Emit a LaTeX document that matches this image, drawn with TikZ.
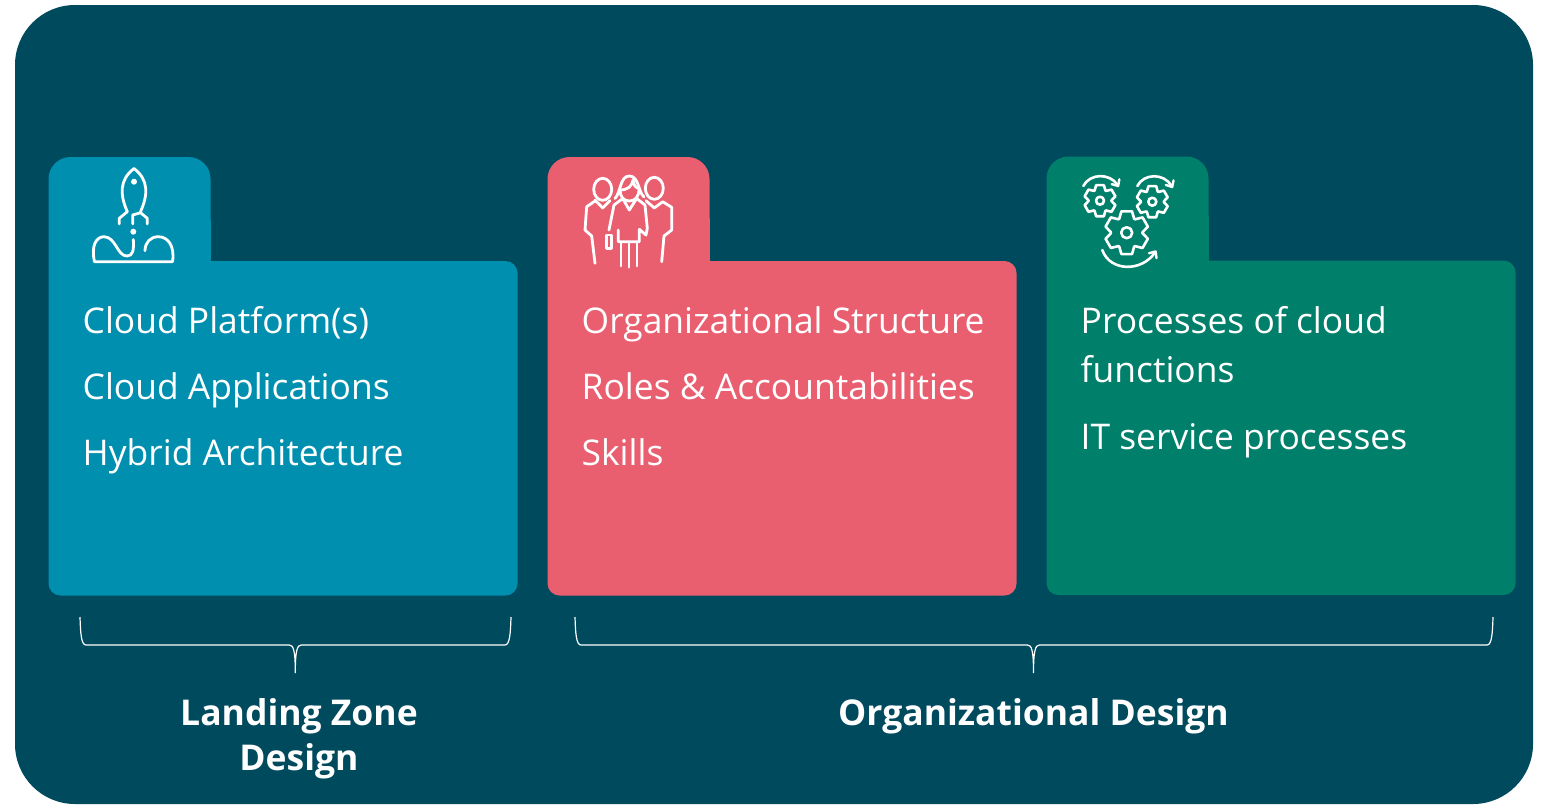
\documentclass[tikz,border=0pt]{standalone}
\usepackage{fontspec}
\setmainfont{Open Sans}
\usetikzlibrary{arrows.meta}
\definecolor{panel}{HTML}{004A5E}
\definecolor{cblue}{HTML}{008FAE}
\definecolor{cred}{HTML}{E95F70}
\definecolor{cgreen}{HTML}{007F6B}
\tikzset{
 txt/.style={anchor=base west,text=white,font=\fontsize{35.4}{49}\selectfont,inner sep=0pt,align=left},
 head/.style={anchor=base,text=white,font=\bfseries\fontsize{35.5}{45}\selectfont,inner sep=0pt,align=center},
 ic/.style={draw=white,line width=2.8pt,line cap=round,line join=round},
 icthin/.style={draw=white,line width=2.6pt,line cap=round,line join=round},
 brace/.style={draw=white,line width=1.2pt},
 turn/.style={icthin,-{Straight Barb[length=5pt,width=9pt,line width=2.4pt,round]}},
}
\newcommand{\folder}[4]{%
 \fill[#4] (#1,#2+22) arc[start angle=180,end angle=270,radius=22] -- (#1+140,#2) arc[start angle=270,end angle=360,radius=22] -- (#1+162.5,#2+104) -- (#3-12,#2+104) arc[start angle=270,end angle=360,radius=12] -- (#3,#2+426.5) arc[start angle=0,end angle=90,radius=12] -- (#1+12,#2+438.5) arc[start angle=90,end angle=180,radius=12] -- cycle;}
\newcommand{\gear}[4]{%
 \begin{scope}[shift={(#1,#2)}]
 \draw[icthin] (-104:#3) -- (-76:#3) -- (-62:#3*.72) -- (-58:#3*.72) -- (-44:#3) -- (-16:#3) -- (-2:#3*.72) -- (2:#3*.72) -- (16:#3) -- (44:#3) -- (58:#3*.72) -- (62:#3*.72) -- (76:#3) -- (104:#3) -- (118:#3*.72) -- (122:#3*.72) -- (136:#3) -- (164:#3) -- (178:#3*.72) -- (182:#3*.72) -- (196:#3) -- (224:#3) -- (238:#3*.72) -- (242:#3*.72) -- cycle;
 \draw[icthin] (0,0) circle[radius=#4];
 \end{scope}}
\newcommand{\bracket}[3]{% left x, right x, tip x
 \draw[brace] (#1,617) .. controls (#1+.5,632) and (#1+1,645) .. (#1+6,645) -- (#3-6,645) .. controls (#3-2,645) and (#3,650) .. (#3,673) .. controls (#3,650) and (#3+2,645) .. (#3+6,645) -- (#2-6,645) .. controls (#2-1,645) and (#2-.5,632) .. (#2,617);}
\begin{document}
\begin{tikzpicture}[x=1pt,y=-1pt]
\useasboundingbox (0,0) rectangle (1544,804);
\fill[white] (0,0) rectangle (1544,804);
\fill[panel] (15,65) arc[start angle=180,end angle=270,radius=60] -- (1473,5) arc[start angle=270,end angle=360,radius=60] -- (1533,744) arc[start angle=0,end angle=90,radius=60] -- (75,804) arc[start angle=90,end angle=180,radius=60] -- cycle;
\folder{48.5}{157}{517.5}{cblue}
\folder{547.5}{157}{1016.5}{cred}
\folder{1046.5}{156.5}{1515.5}{cgreen}
% rocket
\draw[ic] (127.3,211.7) .. controls (120,195) and (119,180) .. (134,168.5) .. controls (149,180) and (148,195) .. (140.5,211.7);
\draw[ic] (127.3,211.7) -- (119.3,218.3) -- (119.3,224);
\draw[ic] (132.7,224) -- (132.7,215) -- (140.5,212.7) -- (147.3,218.3) -- (147.3,224);
\fill[white] (134,181.7) circle[radius=3];
\fill[white] (133.3,231.7) circle[radius=3];
\draw[ic] (133.3,239.5) .. controls (134,250) and (133,256) .. (127,256) .. controls (117,256) and (116,237) .. (104,236.7) .. controls (96,236.7) and (91,246) .. (94.5,261.7) -- (172.5,261.7) .. controls (175,246) and (168,236.7) .. (158.3,236.7) .. controls (150,236.7) and (145,243) .. (145,250.7);
% people
\draw[ic] (602.7,189.3) ellipse[x radius=9,y radius=11];
\draw[ic] (654.3,188.3) ellipse[x radius=9,y radius=11];
\draw[ic] (615,198.5) .. controls (621,192) and (620,176) .. (629.3,176) .. controls (639,176) and (638,192) .. (644,197);
\draw[ic] (620,190) .. controls (628,190) and (632,186) .. (633,180) .. controls (634,186) and (636,188) .. (639,189);
\draw[ic] (620,190) .. controls (620,197) and (624,201) .. (629.3,201) .. controls (635,201) and (639,197) .. (639,189);
\draw[ic] (595,200) -- (602.7,208) -- (610,200.7);
\draw[ic] (595,201) -- (586.7,206.7) -- (585,230) -- (591.7,236) -- (595,263.3);
\draw[ic] (614,205) -- (609,230);
\draw[ic] (606.7,235) rectangle (611.7,248.3);
\draw[ic] (614,205) -- (622.7,198.5) -- (629.3,210) -- (636.7,198.5) -- (645,205) -- (647.3,228.3) -- (646,235) -- (639.3,229.3) -- (639.3,241.7) -- (618.3,241.7) -- (618.3,230);
\draw[ic] (621,243.3) -- (621,266);
\draw[ic] (629,243.3) -- (629,267.3);
\draw[ic] (637,243.3) -- (637,266);
\draw[ic] (646,200.7) -- (654.3,208) -- (662.7,201.7) -- (671.7,207.3) -- (671.7,230) -- (664,236) -- (661.7,261.7);
% gears
\gear{1100}{200.7}{16}{4}
\gear{1152.3}{201.7}{16}{4}
\gear{1126.7}{232.7}{22}{5.5}
\draw[turn] (1083.3,186) .. controls (1090,173) and (1110,173) .. (1118.8,187);
\draw[turn] (1137.3,186) .. controls (1144,173) and (1164,173) .. (1172.8,188);
\draw[turn] (1102.3,250) .. controls (1110,272) and (1142,272) .. (1156.2,250.5);
% texts
\node[txt] (a1) at (82.5,333) {Cloud Platform(s)};
\node[txt] (a2) at (82.5,399) {Cloud Applications};
\node[txt] (a3) at (82.5,465) {Hybrid Architecture};
\node[txt] (b1) at (581.5,333) {Organizational Structure};
\node[txt] (b2) at (581.5,399) {Roles \& Accountabilities};
\node[txt] (b3) at (581.5,465) {Skills};
\node[txt] (c1) at (1080.5,333) {Processes of cloud};
\node[txt] (c2) at (1080.5,382) {functions};
\node[txt] (c3) at (1080.5,449) {IT service processes};
\bracket{80}{511}{295.3}
\bracket{575}{1493}{1033.5}
\node[head] (h1) at (299,725) {Landing Zone};
\node[head] (h1b) at (299,770) {Design};
\node[head] (h2) at (1033.5,725) {Organizational Design};
\end{tikzpicture}
\end{document}
